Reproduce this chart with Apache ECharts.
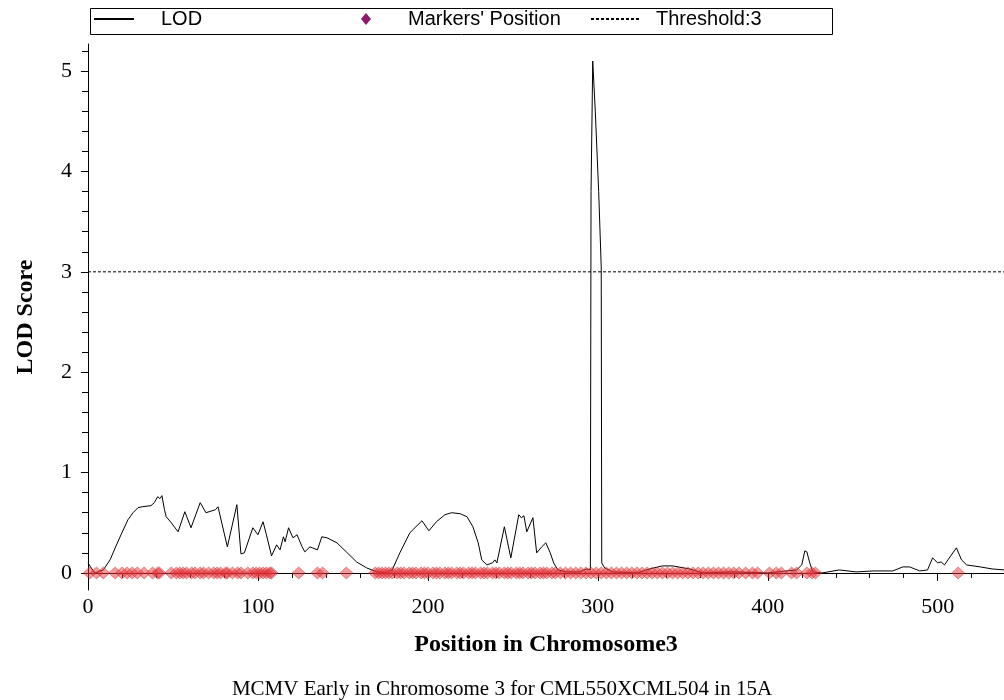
<!DOCTYPE html>
<html>
<head>
<meta charset="utf-8">
<script src="https://cdn.jsdelivr.net/npm/echarts@6/dist/echarts.min.js"></script>
<style>html,body{margin:0;padding:0;background:#fff;}#chart{width:1004px;height:700px;}</style>
</head>
<body>
<div id="chart"></div>
<script>
// ---- data ----
const lodPos = [0,1.5,4,9,13,16,19.4,23.5,26.5,29.4,32,37,39,41,42.3,43.5,45,46,49,53,57,60.6,66,69.4,75,76.5,82,87.6,90,92,97,100,103,105,108,111,113,115,116,118,120.6,123,126,127.6,130.6,132,135,137.6,140.6,146.5,152,158,164,170,176,179,183.5,189.4,196.5,200.6,205,210,214,219,223,226.5,229.6,231.7,234.7,238,239.4,240.6,245,248.8,253.5,255,256.5,258.2,261.8,264,267,269.4,272,274,276.5,281.6,289,293.5,295.6,296,297,298.5,300.5,302,302.3,304,308.8,323,330.6,338,344,354,362,380,400,417,420,421.8,423,424.7,426.5,432,442,452,462,473.5,479.5,483.5,489.4,494,497,500,502,504,506,511,514,517,525,532,539];
const lodVal = [0.10,0.06,0.00,0.03,0.13,0.25,0.38,0.53,0.60,0.65,0.66,0.67,0.70,0.76,0.74,0.77,0.63,0.56,0.50,0.41,0.61,0.45,0.70,0.60,0.63,0.66,0.26,0.68,0.19,0.20,0.45,0.38,0.51,0.38,0.17,0.28,0.23,0.36,0.31,0.45,0.35,0.38,0.26,0.21,0.26,0.25,0.23,0.36,0.35,0.30,0.21,0.11,0.05,0.01,0.00,0.03,0.20,0.40,0.52,0.42,0.51,0.58,0.60,0.59,0.56,0.46,0.30,0.13,0.08,0.10,0.13,0.10,0.46,0.15,0.58,0.55,0.57,0.41,0.55,0.20,0.26,0.30,0.20,0.10,0.03,0.01,0.01,0.04,0.03,3.80,5.10,4.60,3.80,3.05,0.10,0.05,0.01,0.00,0.04,0.07,0.07,0.04,0.00,0.01,0.00,0.03,0.08,0.22,0.21,0.10,0.01,0.00,0.03,0.01,0.02,0.02,0.06,0.06,0.02,0.03,0.15,0.10,0.11,0.08,0.13,0.25,0.13,0.08,0.06,0.04,0.03];
const markerPos = [1,5,9,16,20,23,26,29,33,38,41,42,49,52,54,56,58,61,63,66,68,71,74,76,78,81,82,85,88,90,94,97,99,101,103,105,107,108,124,135,138,152,169,171,173,175,177,179,182,184,186,189,191,193,196,198,200,203,205,207,210,212,214,217,219,221,224,226,228,231,233,235,238,240,242,245,247,249,252,254,256,259,261,263,266,268,270,273,275,278,281,284,287,290,293,296,299,302,305,308,311,314,317,320,323,326,329,332,335,338,341,344,347,350,353,356,359,362,365,368,371,374,377,380,383,387,391,394,401,405,408,414,417,423,426,428,512];
const thresholdValue = 3;
const xMajorTicks = [0,100,200,300,400,500];
const yMajorTicks = [0,1,2,3,4,5];
const xMax = 539, yMin = -0.17, yMax = 5.27;

const xMinorTicks = [];
for (let v = 20; v < xMax; v += 20) if (v % 100 !== 0) xMinorTicks.push(v);
const yMinorTicks = [];
for (let k = 1; k <= 26; k++) if (k % 5 !== 0) yMinorTicks.push(+(k * 0.2).toFixed(1));

const serif = "'Liberation Serif', 'DejaVu Serif', serif";
const sans = "'Liberation Sans', Arial, sans-serif";
const hiddenSymbol = {color: 'rgba(0,0,0,0)', borderColor: 'rgba(0,0,0,0)', borderWidth: 0};

const chart = echarts.init(document.getElementById('chart'), null, {renderer: 'canvas'});
chart.setOption({
  animation: false,
  backgroundColor: '#ffffff',
  title: {
    text: 'MCMV Early in Chromosome 3 for CML550XCML504 in 15A',
    left: 'center', top: 674,
    textStyle: {fontFamily: serif, fontSize: 21, fontWeight: 'normal', color: '#000'}
  },
  graphic: [{
    type: 'rect', left: 88, top: 6,
    shape: {width: 742, height: 26},
    style: {fill: 'none', stroke: '#000', lineWidth: 1}
  }],
  legend: [
    {data: [{name: 'LOD', itemStyle: hiddenSymbol}], left: 93, top: 9, itemWidth: 40, itemHeight: 14, padding: 0,
     textStyle: {fontFamily: sans, fontSize: 20, color: '#000', padding: [0,0,0,22]}},
    {data: [{name: "Markers' Position", itemStyle: {color: '#8e1a6b', borderWidth: 0, opacity: 1}}], left: 361, top: 9, itemWidth: 10, itemHeight: 12, padding: 0,
     textStyle: {fontFamily: sans, fontSize: 20, color: '#000', padding: [0,0,0,32]}},
    {data: [{name: 'Threshold:3', itemStyle: hiddenSymbol}], left: 590, top: 9, itemWidth: 48, itemHeight: 14, padding: 0,
     textStyle: {fontFamily: sans, fontSize: 20, color: '#000', padding: [0,0,0,12]}}
  ],
  grid: {left: 88, right: 0, top: 44, bottom: 110, containLabel: false},
  xAxis: [
    {type: 'value', min: 0, max: xMax, position: 'bottom',
     name: 'Position in Chromosome3', nameLocation: 'middle', nameGap: 43,
     nameTextStyle: {fontFamily: serif, fontSize: 24, fontWeight: 'bold', color: '#000'},
     axisLine: {show: true, onZero: true, lineStyle: {color: '#000', width: 1}},
     axisTick: {show: true, length: 8, customValues: xMajorTicks, lineStyle: {color: '#000'}},
     axisLabel: {show: true, customValues: xMajorTicks, margin: 6, fontFamily: serif, fontSize: 22, color: '#000'},
     splitLine: {show: false}},
    {type: 'value', min: 0, max: xMax, position: 'bottom',
     axisLine: {show: false, onZero: true},
     axisTick: {show: true, length: 5, customValues: xMinorTicks, lineStyle: {color: '#000'}},
     axisLabel: {show: false}, splitLine: {show: false}}
  ],
  yAxis: [
    {type: 'value', min: yMin, max: yMax, position: 'left',
     name: 'LOD Score', nameLocation: 'middle', nameGap: 50, nameRotate: 90,
     nameTextStyle: {fontFamily: serif, fontSize: 24, fontWeight: 'bold', color: '#000'},
     axisLine: {show: true, onZero: false, lineStyle: {color: '#000', width: 1}},
     axisTick: {show: true, length: 7, customValues: yMajorTicks, lineStyle: {color: '#000'}},
     axisLabel: {show: true, customValues: yMajorTicks, margin: 16, fontFamily: serif, fontSize: 22, color: '#000'},
     splitLine: {show: false}},
    {type: 'value', min: yMin, max: yMax, position: 'left',
     axisLine: {show: false, onZero: false},
     axisTick: {show: true, length: 6, customValues: yMinorTicks, lineStyle: {color: '#000'}},
     axisLabel: {show: false}, splitLine: {show: false}}
  ],
  series: [
    {name: 'LOD', type: 'line', xAxisIndex: 0, yAxisIndex: 0, symbol: 'none', z: 3,
     lineStyle: {color: '#000', width: 1}, itemStyle: {color: '#000'},
     data: lodPos.map((x, i) => [x, lodVal[i]])},
    {name: "Markers' Position", type: 'scatter', xAxisIndex: 0, yAxisIndex: 0, symbol: 'diamond', symbolSize: [13, 12], z: 4,
     itemStyle: {color: 'rgba(228,50,55,0.62)', borderColor: 'rgba(200,30,35,0.75)', borderWidth: 0.7},
     data: markerPos.map(x => [x, 0])},
    {name: 'Threshold:3', type: 'line', xAxisIndex: 0, yAxisIndex: 0, symbol: 'none', z: 2,
     lineStyle: {color: '#000', width: 1, type: [3, 2]}, itemStyle: {color: '#000'},
     data: [[0, thresholdValue], [xMax, thresholdValue]]}
  ]
});
</script>
</body>
</html>
